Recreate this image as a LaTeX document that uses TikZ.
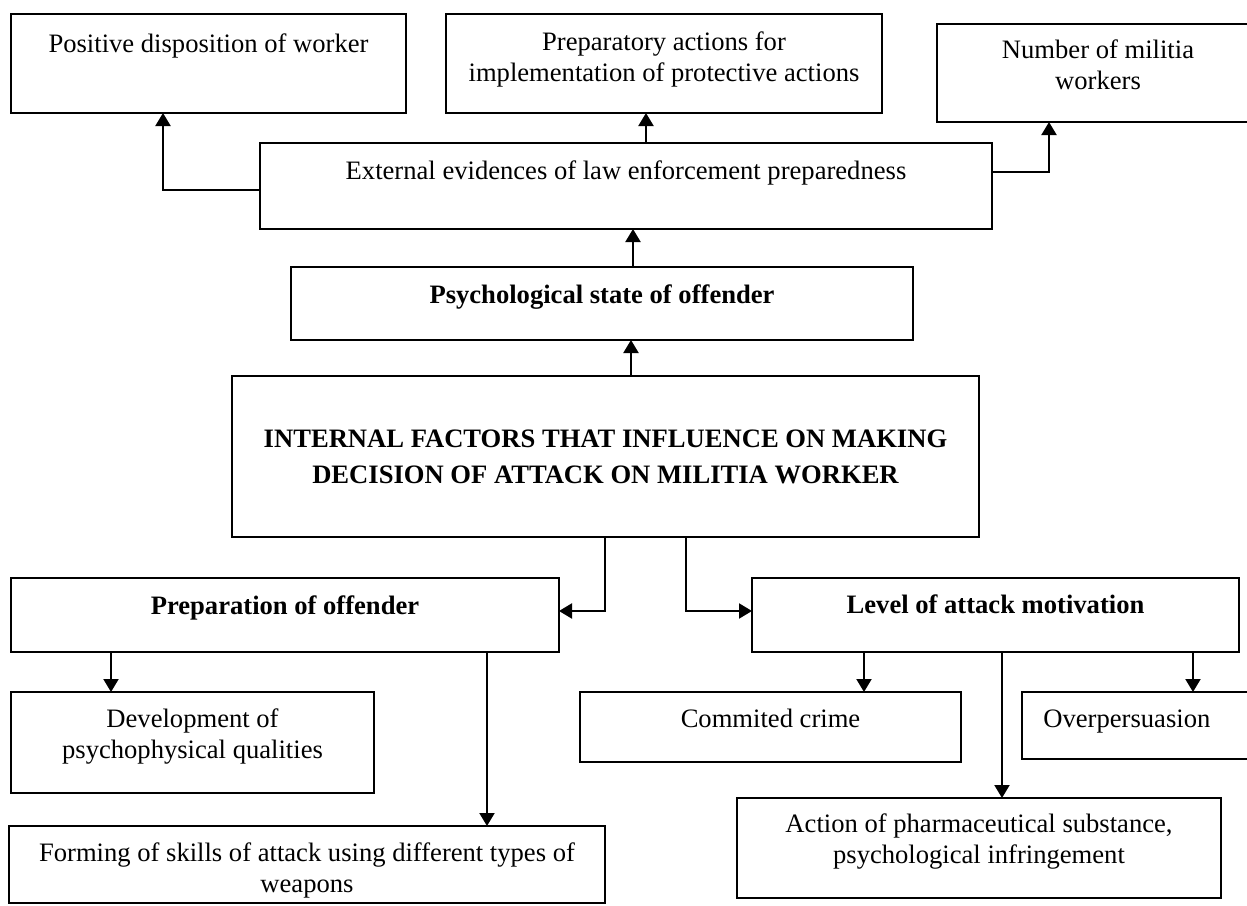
\documentclass[tikz,border=0pt]{standalone}
\usepackage{fontspec}
\setmainfont{Liberation Serif}
\usetikzlibrary{arrows.meta,fit}
\tikzset{
  box/.style={draw, line width=1pt, inner sep=0pt, outer sep=0pt},
  txt/.style={font=\fontsize{13.3}{15.2}\selectfont, align=center, inner sep=0pt},
  btxt/.style={txt, font=\fontsize{13.3}{18}\selectfont\bfseries},
  arr/.style={line width=1pt, -{Triangle[length=6.5pt,width=7.5pt]}},
}
\begin{document}
\begin{tikzpicture}[x=0.5pt,y=-0.5pt]
\clip (0,0) rectangle (1247,905);
\fill[white] (0,0) rectangle (1247,905);

% top row (multi-line labels are placed by the baseline of their last line)
\node[box, fit={(11,14) (406,113)}] (pos) {};
\node[txt, anchor=base] (pos-t) at (208.5,52) {Positive disposition of worker};
\node[box, fit={(446,14) (882,113)}] (prepact) {};
\node[txt, anchor=base] (prepact-t) at (664,81) {Preparatory actions for\\implementation of protective actions};
\node[box, fit={(937,24) (1262,122)}] (num) {};
\node[txt, anchor=base] (num-t) at (1098,89) {Number of militia\\workers};

% external evidences
\node[box, fit={(260,143) (992,229)}] (ext) {};
\node[txt, anchor=base] (ext-t) at (626,179) {External evidences of law enforcement preparedness};

% psychological state
\node[box, fit={(291,267) (913,340)}] (psy) {};
\node[btxt, anchor=base] (psy-t) at (602,303) {Psychological state of offender};

% central box
\node[box, fit={(232,376) (979,537)}] (main) {};
\node[btxt, anchor=base] (main-t) at (605.5,483) {INTERNAL FACTORS THAT INFLUENCE ON MAKING\\DECISION OF ATTACK ON MILITIA WORKER};

% second level
\node[box, fit={(11,578) (559,652)}] (prep) {};
\node[btxt, anchor=base] (prep-t) at (285,614) {Preparation of offender};
\node[box, fit={(752,578) (1239,652)}] (lvl) {};
\node[btxt, anchor=base] (lvl-t) at (995.5,613) {Level of attack motivation};

% bottom boxes
\node[box, fit={(11,692) (374,793)}] (dev) {};
\node[txt, anchor=base] (dev-t) at (192.5,758) {Development of\\psychophysical qualities};
\node[box, fit={(9,826) (605,903)}] (form) {};
\node[txt, anchor=base] (form-t) at (307,892) {Forming of skills of attack using different types of\\weapons};
\node[box, fit={(580,692) (961,762)}] (crime) {};
\node[txt, anchor=base] (crime-t) at (770.5,727) {Commited crime};
\node[box, fit={(1022,692) (1262,759)}] (over) {};
\node[txt, anchor=base west] (over-t) at (1043,727) {Overpersuasion};
\node[box, fit={(737,798) (1221,898)}] (act) {};
\node[txt, anchor=base] (act-t) at (979,863) {Action of pharmaceutical substance,\\psychological infringement};

% connectors
\draw[arr] (ext.west |- 0,190) -| (pos.south -| 163,0);
\draw[arr] (ext.north -| 646,0) -- (prepact.south -| 646,0);
\draw[arr] (ext.east |- 0,172) -| (num.south -| 1049,0);
\draw[arr] (psy.north -| 633,0) -- (ext.south -| 633,0);
\draw[arr] (main.north -| 631,0) -- (psy.south -| 631,0);
\draw[arr] (main.south -| 605,0) |- (prep.east |- 0,611);
\draw[arr] (main.south -| 686,0) |- (lvl.west |- 0,611);
\draw[arr] (prep.south -| 111,0) -- (dev.north -| 111,0);
\draw[arr] (prep.south -| 487,0) -- (form.north -| 487,0);
\draw[arr] (lvl.south -| 864,0) -- (crime.north -| 864,0);
\draw[arr] (lvl.south -| 1002,0) -- (act.north -| 1002,0);
\draw[arr] (lvl.south -| 1193,0) -- (over.north -| 1193,0);
\end{tikzpicture}
\end{document}
